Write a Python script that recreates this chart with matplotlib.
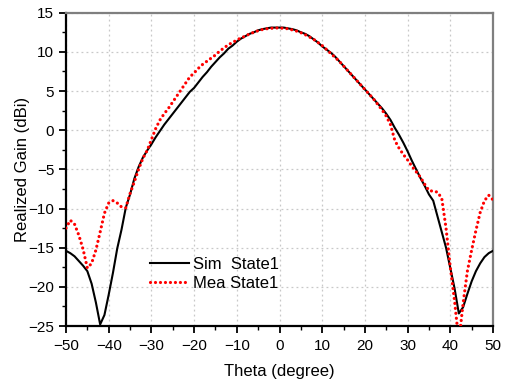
import matplotlib
matplotlib.use("Agg")
import matplotlib.pyplot as plt
from matplotlib.ticker import MultipleLocator

plt.rcParams['font.family'] = ['Liberation Sans', 'DejaVu Sans']

theta = list(range(-50, 51))

sim_state1 = [
    -15.4, -15.7, -16.1, -16.7, -17.3, -18.0, -19.6, -22.0, -24.8, -23.6,
    -21.0, -18.2, -15.1, -12.7, -9.9, -8.2, -6.2, -4.7, -3.5, -2.6,
    -1.8, -0.9, -0.1, 0.7, 1.4, 2.1, 2.8, 3.5, 4.2, 4.9,
    5.4, 6.1, 6.8, 7.4, 8.1, 8.7, 9.3, 9.8, 10.4, 10.8,
    11.3, 11.7, 12.0, 12.3, 12.5, 12.75, 12.9, 13.0, 13.1, 13.1,
    13.1,
    13.1, 13.0, 12.9, 12.75, 12.5, 12.3, 12.0, 11.6, 11.2, 10.7,
    10.3, 9.9, 9.4, 8.8, 8.2, 7.6, 7.0, 6.4, 5.8, 5.2,
    4.6, 4.0, 3.4, 2.8, 2.1, 1.3, 0.3, -0.6, -1.6, -2.7,
    -3.9, -5.0, -6.1, -7.1, -8.2, -9.0, -11.0, -13.0, -15.0, -17.6,
    -20.2, -23.4, -22.6, -20.9, -19.3, -18.0, -17.0, -16.2, -15.7, -15.4,
]

mea_state1 = [
    -12.5, -11.5, -12.0, -13.4, -15.2, -17.6, -17.0, -15.3, -13.0, -10.6,
    -9.3, -9.0, -9.3, -9.8, -9.9, -8.1, -6.6, -5.0, -3.6, -2.6,
    -1.2, 0.2, 1.3, 2.1, 2.8, 3.6, 4.4, 5.2, 6.0, 6.8,
    7.3, 7.9, 8.4, 8.8, 9.2, 9.6, 10.1, 10.5, 10.9, 11.2,
    11.5, 11.8, 12.0, 12.3, 12.5, 12.7, 12.85, 12.95, 13.0, 13.05,
    13.05,
    13.0, 12.95, 12.8, 12.65, 12.45, 12.2, 11.9, 11.6, 11.2, 10.8,
    10.3, 9.8, 9.3, 8.8, 8.2, 7.6, 7.0, 6.4, 5.8, 5.2,
    4.6, 4.0, 3.3, 2.6, 1.8, 0.7, -1.3, -2.3, -3.1, -3.8,
    -4.6, -5.3, -6.0, -6.9, -7.7, -7.8, -7.9, -8.7, -12.5, -17.5,
    -21.8, -27.0, -22.1, -18.0, -15.3, -12.8, -10.5, -9.0, -8.3, -8.9,
]

series_labels = ["Sim  State1", "Mea State1"]
x_ticks = list(range(-50, 51, 10))
y_ticks = list(range(-25, 16, 5))

fig = plt.figure(figsize=(5.05, 3.83), dpi=100)
ax = fig.add_axes([66 / 505, 1 - 326 / 383, (493 - 66) / 505, (326 - 12.7) / 383])

ax.plot(theta, sim_state1, color='black', lw=1.5, solid_joinstyle='round', label=series_labels[0], zorder=3)
ax.plot(theta, mea_state1, color='#ff0000', lw=2.3, linestyle=(0, (0.01, 1.55)),
        dash_capstyle='round', label=series_labels[1], zorder=4)

ax.set_xlim(-50, 50)
ax.set_ylim(-25, 15)
ax.set_xticks(x_ticks)
ax.set_yticks(y_ticks)
ax.xaxis.set_minor_locator(MultipleLocator(5))
ax.yaxis.set_minor_locator(MultipleLocator(2.5))
ax.tick_params(axis='both', which='major', direction='out', length=5, width=1.3, labelsize=11, colors='black')
ax.tick_params(axis='both', which='minor', direction='out', length=3, width=1.0)
ax.tick_params(top=False, right=False, which='both')
ax.tick_params(axis='x', pad=4)

ax.grid(True, which='major', color='#c8c8c8', linestyle=(0, (1.5, 2.5)), lw=0.9)
ax.set_axisbelow(True)

for s in ['left', 'bottom']:
    ax.spines[s].set_color('black')
    ax.spines[s].set_linewidth(1.6)
for s in ['top', 'right']:
    ax.spines[s].set_color('#7f7f7f')
    ax.spines[s].set_linewidth(1.6)

ax.set_xlabel("Theta (degree)", fontsize=12, labelpad=8)
ax.set_ylabel("Realized Gain (dBi)", fontsize=12, labelpad=-1)

leg = ax.legend(loc='center left', bbox_to_anchor=(0.197, 0.166), frameon=False, fontsize=12,
                handlelength=2.35, handletextpad=0.25, labelspacing=0.25, borderpad=0, borderaxespad=0)

fig.savefig("out.png", dpi=100)
